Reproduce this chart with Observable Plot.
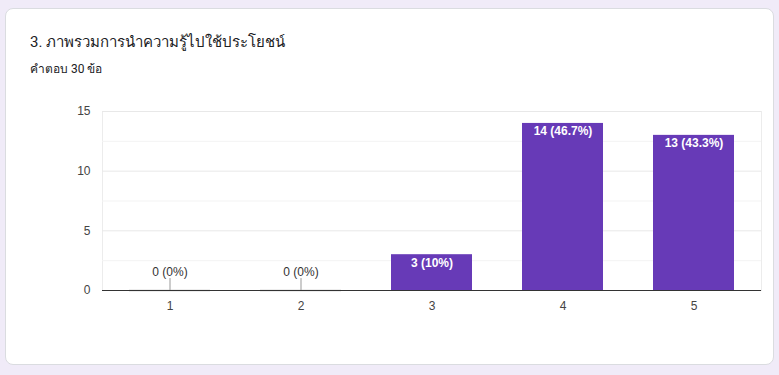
<!DOCTYPE html>
<html><head><meta charset="utf-8">
<script src="https://cdn.jsdelivr.net/npm/d3@7"></script>
<script src="https://cdn.jsdelivr.net/npm/@observablehq/plot@0.6"></script>
<style>
html,body{margin:0;padding:0;background:#f0ebf8;width:779px;height:375px;overflow:hidden;}
#card{position:absolute;left:5px;top:8px;width:767px;height:355px;background:#fff;border:1px solid #dadce0;border-radius:8px;}
#title{position:absolute;left:30px;top:32px;font-family:Roboto,"Noto Sans",Arial,sans-serif;font-size:15px;color:#202124;line-height:20px;white-space:nowrap;}
#sub{position:absolute;left:30px;top:62px;font-family:Roboto,"Noto Sans",Arial,sans-serif;font-size:12px;color:#202124;line-height:14px;white-space:nowrap;}
#chart{position:absolute;left:0;top:80px;}
</style></head>
<body>
<div id="card"></div>
<div id="title">3. ภาพรวมการนำความรู้ไปใช้ประโยชน์</div>
<div id="sub">คำตอบ 30 ข้อ</div>
<div id="chart"></div>
<script>
const categories = ["1", "2", "3", "4", "5"];
const counts = [0, 0, 3, 14, 13];
const percentLabels = ["0%", "0%", "10%", "46.7%", "43.3%"];
const yTicks = [0, 5, 10, 15];
const minorGrid = [2.5, 7.5, 12.5];
const connectorLength = 1;

const data = categories.map((c, i) => ({cat: c, n: counts[i], label: `${counts[i]} (${percentLabels[i]})`}));
const zeros = data.filter(d => d.n === 0);
const nonzero = data.filter(d => d.n > 0);

const chart = Plot.plot({
  width: 779,
  height: 240,
  marginTop: 31,
  marginBottom: 30,
  marginLeft: 102,
  marginRight: 18,
  style: {fontFamily: "Arial, 'Liberation Sans', sans-serif", fontSize: "12px", color: "#444", background: "transparent"},
  x: {domain: categories, paddingInner: 0.38, paddingOuter: 0.19, label: null, tickSize: 0, tickPadding: 11},
  y: {domain: [0, 15], ticks: yTicks, label: null, tickSize: 0, tickPadding: 12},
  marks: [
    Plot.frame({stroke: "#ececec"}),
    Plot.ruleY(minorGrid, {stroke: "#f3f3f3"}),
    Plot.ruleY(yTicks.filter(t => t > 0), {stroke: "#e8e8e8"}),
    Plot.barY(nonzero, {x: "cat", y: "n", fill: "#673ab7"}),
    Plot.tickY(zeros, {x: "cat", y: 0, stroke: "#dcdcdc", strokeWidth: 2}),
    Plot.ruleX(zeros, {x: "cat", y1: 0, y2: connectorLength, stroke: "#999"}),
    Plot.text(zeros, {x: "cat", y: 0, text: "label", dy: -18, fill: "#333", fontSize: 12}),
    Plot.text(nonzero, {x: "cat", y: "n", text: "label", dy: 8, fill: "#fff", fontSize: 12, fontWeight: "bold"}),
    Plot.ruleY([0], {stroke: "#333"})
  ]
});
document.getElementById("chart").appendChild(chart);
</script>
</body></html>
